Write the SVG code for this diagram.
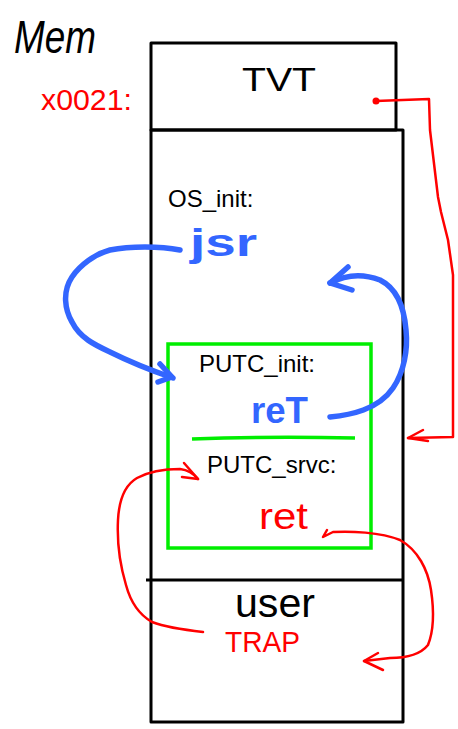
<svg xmlns="http://www.w3.org/2000/svg" width="458" height="729" viewBox="0 0 458 729">
<style>
.box{fill:none;stroke:#000;stroke-width:3;stroke-linejoin:round}
.green{fill:none;stroke:#00ee00;stroke-width:3.5}
.blue{fill:none;stroke:#3366ff;stroke-width:5.5;stroke-linecap:round;stroke-linejoin:round}
.red{fill:none;stroke:#ff0000;stroke-width:2.5;stroke-linecap:round;stroke-linejoin:round}
.typed{font-family:"Liberation Sans",Arial,sans-serif;font-size:24px;fill:#000}
.hand{font-family:"Liberation Sans",Arial,sans-serif}
</style>
<rect width="458" height="729" fill="#fff"/>
<g id="title">
<text class="hand" x="14" y="53" font-size="46" font-style="italic" textLength="82" lengthAdjust="spacingAndGlyphs" fill="#000">Mem</text>
</g>
<g id="addr">
<text class="hand" x="41" y="110" font-size="29" textLength="91" lengthAdjust="spacingAndGlyphs" fill="#ff0000">x0021:</text>
</g>
<g id="tvt">
<rect class="box" x="151" y="43" width="245" height="87"/>
<text class="hand" x="242" y="91" font-size="33" textLength="74" lengthAdjust="spacingAndGlyphs" fill="#000">TVT</text>
</g>
<g id="memory">
<rect class="box" x="151" y="130" width="252" height="592"/>
<line class="box" x1="146" y1="580" x2="403" y2="580"/>
<text class="typed" x="168" y="207">OS_init:</text>
<text class="hand" x="190" y="256" font-size="38" font-weight="bold" textLength="67" lengthAdjust="spacingAndGlyphs" fill="#3366ff">jsr</text>
</g>
<g id="putc">
<rect class="green" x="168" y="344" width="203" height="204"/>
<path class="green" d="M192,439 Q270,436 355,438"/>
<text class="typed" x="199" y="372">PUTC_init:</text>
<text class="hand" x="251" y="423" font-size="36" font-weight="bold" textLength="57" lengthAdjust="spacingAndGlyphs" fill="#3366ff">reT</text>
<text class="typed" x="207" y="473">PUTC_srvc:</text>
<text class="hand" x="259" y="529" font-size="36" textLength="49" lengthAdjust="spacingAndGlyphs" fill="#ff0000">ret</text>
</g>
<g id="user">
<text class="hand" x="235" y="617" font-size="40" textLength="80" lengthAdjust="spacingAndGlyphs" fill="#000">user</text>
<text class="hand" x="225" y="652" font-size="30" textLength="75" lengthAdjust="spacingAndGlyphs" fill="#ff0000">TRAP</text>
</g>
<g id="connectors">
<path class="blue" d="M180,250 C160,246 130,246 110,250 C95,254 80,265 72,277 C62,292 65,310 72,322 C80,338 95,345 110,352 C130,362 150,370 173,378"/>
<path class="blue" d="M160,364 L172,377 L158,382"/>
<path class="blue" d="M330,417 C350,415 378,410 393,388 C404,372 408,350 406,330 C404,305 396,288 380,280 C362,273 345,275 330,283"/>
<path class="blue" d="M348,267 L330,283 L352,290"/>
<circle cx="376" cy="101" r="3.5" fill="#ff0000"/>
<path class="red" d="M376,101 L429,99 L430,130 L438,197 L441,212 L448,240 L453,275 L453,437 L408,438"/>
<path class="red" d="M423,430 L408,438 L428,441"/>
<path class="red" d="M203,632 C185,630 168,628 152,622 C138,614 130,600 126,585 C120,565 117,540 118,520 C119,500 125,485 137,478 C150,471 165,469 180,469 C188,470 194,474 198,479"/>
<path class="red" d="M184,463 L198,479 L182,477"/>
<path class="red" d="M327,530 L323,537 L333,532 C350,531 380,532 400,540 C418,550 428,570 431,590 C434,610 434,630 428,645 C420,655 405,658 390,658 L364,661"/>
<path class="red" d="M378,653 L364,661 L383,670"/>
</g>
</svg>
